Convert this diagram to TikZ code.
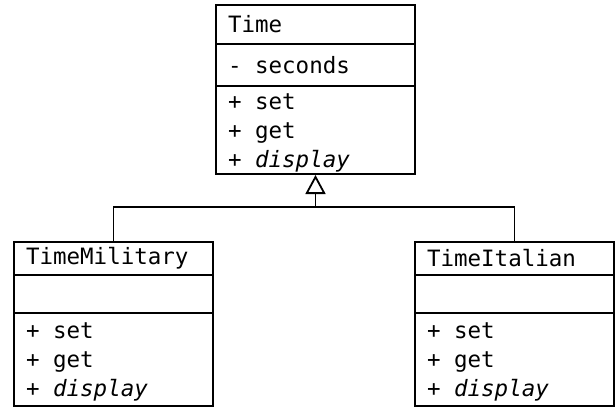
\documentclass[tikz,border=0pt]{standalone}
\usepackage{fontspec}
\setmonofont{DejaVu Sans Mono}
\usetikzlibrary{arrows.meta,positioning}
\tikzset{>=latex}
\newcommand\umlfont{\ttfamily\fontsize{22.5}{28.75}\selectfont}
\newcommand\opsstrut[1]{\rule{0pt}{#1}}
\tikzstyle{part}=[draw,line width=2.8pt,anchor=north west,outer sep=0pt,minimum width=199pt,text width=175pt,align=left,inner xsep=12pt,inner ysep=1pt,font=\umlfont,execute at begin node={\spaceskip=0.602em\relax}]
\tikzstyle{link}=[line width=1.8pt]
\tikzstyle{inherit}=[link,-{Triangle[open,length=19pt,width=20pt]},shorten >=1pt]

\begin{document}
\begin{tikzpicture}[x=1pt,y=-1pt]
  \useasboundingbox (0,0) rectangle (615,414);
  
  % BASE CLASS
  \node[part,minimum height=39pt] (T)  at (216,5)  {Time};
  \node[part,minimum height=42pt] (TA) at (216,44) {- seconds};
  \node[part,minimum height=88pt] (TO) at (216,86) {\opsstrut{21.5pt}+ set\\+ get\\+ \textit{display}};
  
  % SUBCLASSES
  \node[part,minimum height=33pt] (M)  at (14,242) {TimeMilitary};
  \node[part,minimum height=38pt] (MA) at (14,275) {};
  \node[part,minimum height=93pt] (MO) at (14,313) {\opsstrut{20.5pt}+ set\\+ get\\+ \textit{display}};
  
  \node[part,minimum height=33pt] (I)  at (415,242) {TimeItalian};
  \node[part,minimum height=38pt] (IA) at (415,275) {};
  \node[part,minimum height=93pt] (IO) at (415,313) {\opsstrut{20.5pt}+ set\\+ get\\+ \textit{display}};
  
  % INHERITANCE
  \coordinate (J) at (TO.south |- 0,207);
  \draw[link]    (M.north) |- (J) -| (I.north);
  \draw[inherit] (J) -- (TO.south);
  
\end{tikzpicture}
\end{document}
